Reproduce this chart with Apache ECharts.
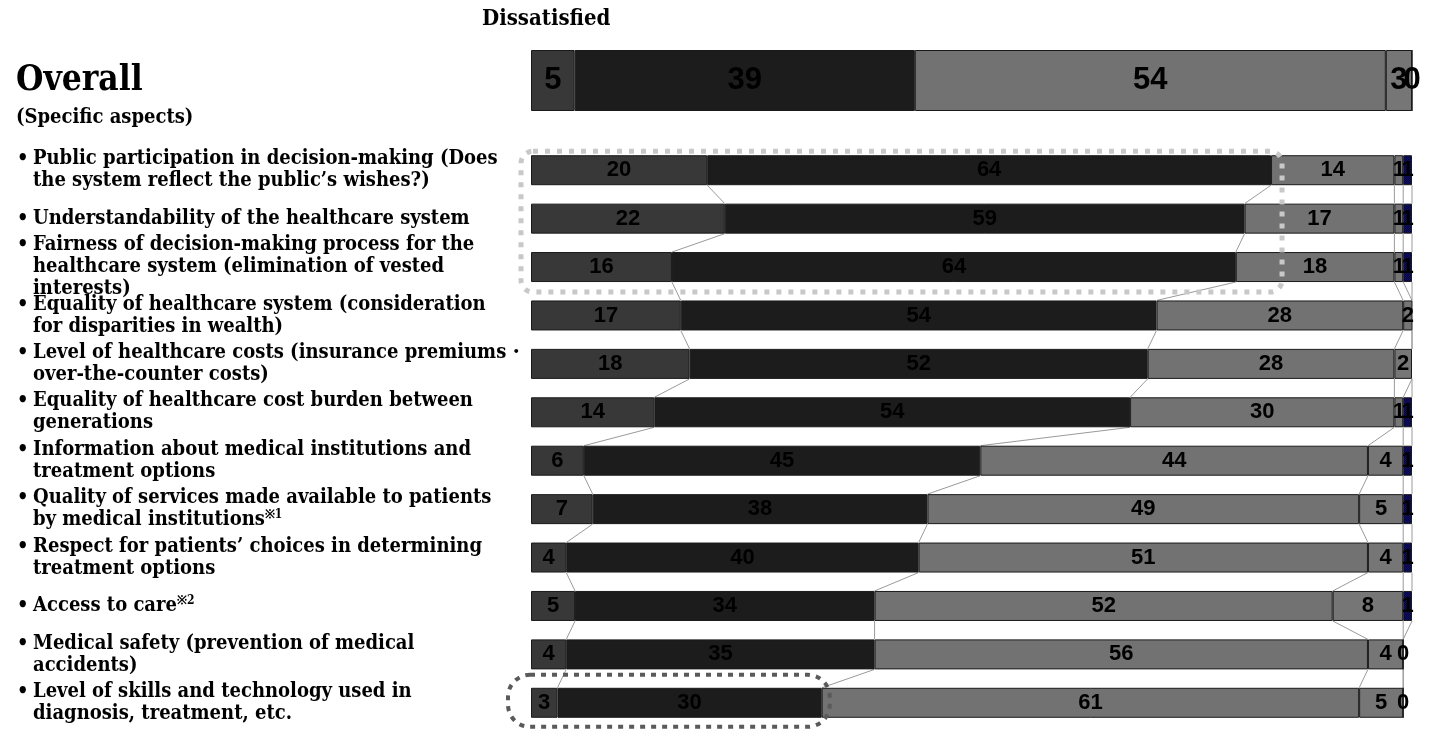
<!DOCTYPE html>
<html>
<head>
<meta charset="utf-8">
<script src="https://cdn.jsdelivr.net/npm/echarts@6/dist/echarts.min.js"></script>
<style>
  html, body { margin: 0; padding: 0; background: #ffffff; }
  #chart { width: 1437px; height: 729px; }
</style>
</head>
<body>
<div id="chart"></div>
<script>
// ---- text ----
const headerText = 'Dissatisfied';
const overallLabel = 'Overall';
const subheading = '(Specific aspects)';

// ---- overall rating shares, left to right ----
const overallValues = [5, 39, 54, 3, 0];

// ---- aspects, top to bottom ("※n" is a footnote mark) ----
const aspects = [
  'Public participation in decision-making (Does\nthe system reflect the public’s wishes?)',
  'Understandability of the healthcare system',
  'Fairness of decision-making process for the\nhealthcare system (elimination of vested\ninterests)',
  'Equality of healthcare system (consideration\nfor disparities in wealth)',
  'Level of healthcare costs (insurance premiums・\nover-the-counter costs)',
  'Equality of healthcare cost burden between\ngenerations',
  'Information about medical institutions and\ntreatment options',
  'Quality of services made available to patients\nby medical institutions※1',
  'Respect for patients’ choices in determining\ntreatment options',
  'Access to care※2',
  'Medical safety (prevention of medical\naccidents)',
  'Level of skills and technology used in\ndiagnosis, treatment, etc.'
];

// ---- shares per segment (one entry per aspect) ----
const segment1 = [20, 22, 16, 17, 18, 14, 6, 7, 4, 5, 4, 3];
const segment2 = [64, 59, 64, 54, 52, 54, 45, 38, 40, 34, 35, 30];
const segment3 = [14, 17, 18, 28, 28, 30, 44, 49, 51, 52, 56, 61];
const segment4 = [1, 1, 1, 2, 2, 1, 4, 5, 4, 8, 4, 5];
const segment5 = [1, 1, 1, 1, null, 1, 1, 1, 1, 1, 0, 0];

const segments = [segment1, segment2, segment3, segment4, segment5];

// ---- styling ----
const SERIF = "'DejaVu Serif Condensed', 'Liberation Serif', serif";
const SANS = "'Liberation Sans', Arial, sans-serif";
const ITEM_FONT = 20;
const ITEM_LINE = 22;
const ROW_BAR = 30;
const OVERALL_BAR = 61;

function navyPattern() {
  const c = document.createElement('canvas');
  c.width = 2; c.height = 2;
  const g = c.getContext('2d');
  g.fillStyle = '#000066';
  g.fillRect(0, 0, 2, 2);
  g.fillStyle = '#161640';
  g.fillRect(0, 0, 1, 1);
  g.fillRect(1, 1, 1, 1);
  return c;
}
const segmentColors = ['#383838', '#1c1c1c', '#727272', '#767676',
  { image: navyPattern(), repeat: 'repeat' }];

// cumulative right edges of each segment, per aspect
const rowCum = aspects.map((_, i) => {
  let s = 0;
  return segments.map(seg => (s += (seg[i] || 0)));
});
const ROW_MAX = 100;
const overallMax = Math.max(100, overallValues.reduce((a, b) => a + b, 0));

const barLabel = (size) => ({
  show: true,
  position: 'inside',
  color: '#000',
  fontFamily: SANS,
  fontWeight: 'bold',
  fontSize: size
});

const series = [];
segments.forEach((seg, k) => {
  series.push({
    type: 'bar', stack: 'overall', xAxisIndex: 0, yAxisIndex: 0,
    barWidth: OVERALL_BAR,
    data: [overallValues[k]],
    itemStyle: { color: segmentColors[k], borderColor: '#1a1a1a', borderWidth: 1 },
    label: barLabel(31),
    z: 2
  });
});
segments.forEach((seg, k) => {
  series.push({
    type: 'bar', stack: 'rows', xAxisIndex: 1, yAxisIndex: 1,
    barWidth: ROW_BAR,
    data: seg,
    itemStyle: { color: segmentColors[k], borderColor: '#1a1a1a', borderWidth: 1 },
    label: barLabel(22),
    z: 2
  });
});

// thin lines joining segment boundaries of neighbouring rows
series.push({
  type: 'custom', xAxisIndex: 1, yAxisIndex: 1, z: 1, silent: true,
  data: aspects.slice(1).map((_, i) => [0, i]),
  renderItem: (params, api) => {
    const i = params.dataIndex;
    const children = [];
    for (let k = 0; k < segments.length; k++) {
      const a = api.coord([Math.min(rowCum[i][k], ROW_MAX), i]);
      const b = api.coord([Math.min(rowCum[i + 1][k], ROW_MAX), i + 1]);
      children.push({
        type: 'line',
        shape: { x1: a[0], y1: a[1] + ROW_BAR / 2, x2: b[0], y2: b[1] - ROW_BAR / 2 },
        style: { stroke: '#9a9a9a', lineWidth: 1 }
      });
    }
    return { type: 'group', children };
  }
});

// dotted highlight outlines
const highlights = [
  { from: 0, to: 2, padL: 10, padR: 11, padT: 4, padB: 10, r: 12, color: '#c8c8c8', width: 5, dash: [5, 7] },
  { from: 11, to: 11, padL: 23, padR: 8, padT: 13, padB: 9, r: 22, color: '#5a5a5a', width: 4, dash: [5, 6] }
];
series.push({
  type: 'custom', xAxisIndex: 1, yAxisIndex: 1, z: 5, silent: true,
  data: highlights.map(h => [0, h.from]),
  renderItem: (params, api) => {
    const h = highlights[params.dataIndex];
    let right = 0;
    for (let i = h.from; i <= h.to; i++) right = Math.max(right, rowCum[i][1]);
    const tl = api.coord([0, h.from]);
    const br = api.coord([right, h.to]);
    const x = tl[0] - h.padL;
    const y = tl[1] - ROW_BAR / 2 - h.padT;
    const w = br[0] + h.padR - x;
    const ht = br[1] + ROW_BAR / 2 + h.padB - y;
    return {
      type: 'rect',
      shape: { x, y, width: w, height: ht, r: h.r },
      style: { fill: 'none', stroke: h.color, lineWidth: h.width, lineDash: h.dash }
    };
  }
});

const aspectFormatter = (value) => value.split('\n').map((line, k) => {
  const body = line.replace(/(※\d)/g, '{sup|$1}');
  return (k === 0 ? '{dot|•}' : '{pad| }') + body;
}).join('\n');

const option = {
  animation: false,
  backgroundColor: '#ffffff',
  title: [
    { text: headerText, left: 482, top: 8, padding: 0,
      textStyle: { fontFamily: SERIF, fontWeight: 'bold', fontSize: 22, color: '#000' } },
    { text: subheading, left: 16, top: 108, padding: 0,
      textStyle: { fontFamily: SERIF, fontWeight: 'bold', fontSize: 20, color: '#000' } }
  ],
  grid: [
    { left: 531, right: 25, top: 50, height: OVERALL_BAR },
    { left: 531, right: 25, top: 146, height: 581 }
  ],
  xAxis: [
    { type: 'value', gridIndex: 0, min: 0, max: overallMax, show: false },
    { type: 'value', gridIndex: 1, min: 0, max: ROW_MAX, show: false }
  ],
  yAxis: [
    { type: 'category', gridIndex: 0, data: [overallLabel],
      axisLine: { show: false }, axisTick: { show: false }, splitLine: { show: false },
      axisLabel: { align: 'left', margin: 515, color: '#000', fontFamily: SERIF,
        fontWeight: 'bold', fontSize: 35 } },
    { type: 'category', gridIndex: 1, data: aspects, inverse: true,
      axisLine: { show: false }, axisTick: { show: false }, splitLine: { show: false },
      axisLabel: {
        interval: 0, align: 'left', margin: 514, color: '#000',
        fontFamily: SERIF, fontWeight: 'bold', fontSize: ITEM_FONT, lineHeight: ITEM_LINE,
        formatter: aspectFormatter,
        rich: {
          dot: { width: 16, fontFamily: SERIF, fontWeight: 'bold', fontSize: ITEM_FONT, lineHeight: ITEM_LINE, color: '#000' },
          pad: { width: 16, fontSize: ITEM_FONT, lineHeight: ITEM_LINE },
          sup: { fontFamily: SERIF, fontWeight: 'bold', fontSize: 12, lineHeight: ITEM_LINE,
            verticalAlign: 'top', color: '#000' }
        }
      } }
  ],
  series
};

const chart = echarts.init(document.getElementById('chart'), null, { renderer: 'canvas' });
chart.setOption(option);
</script>
</body>
</html>
